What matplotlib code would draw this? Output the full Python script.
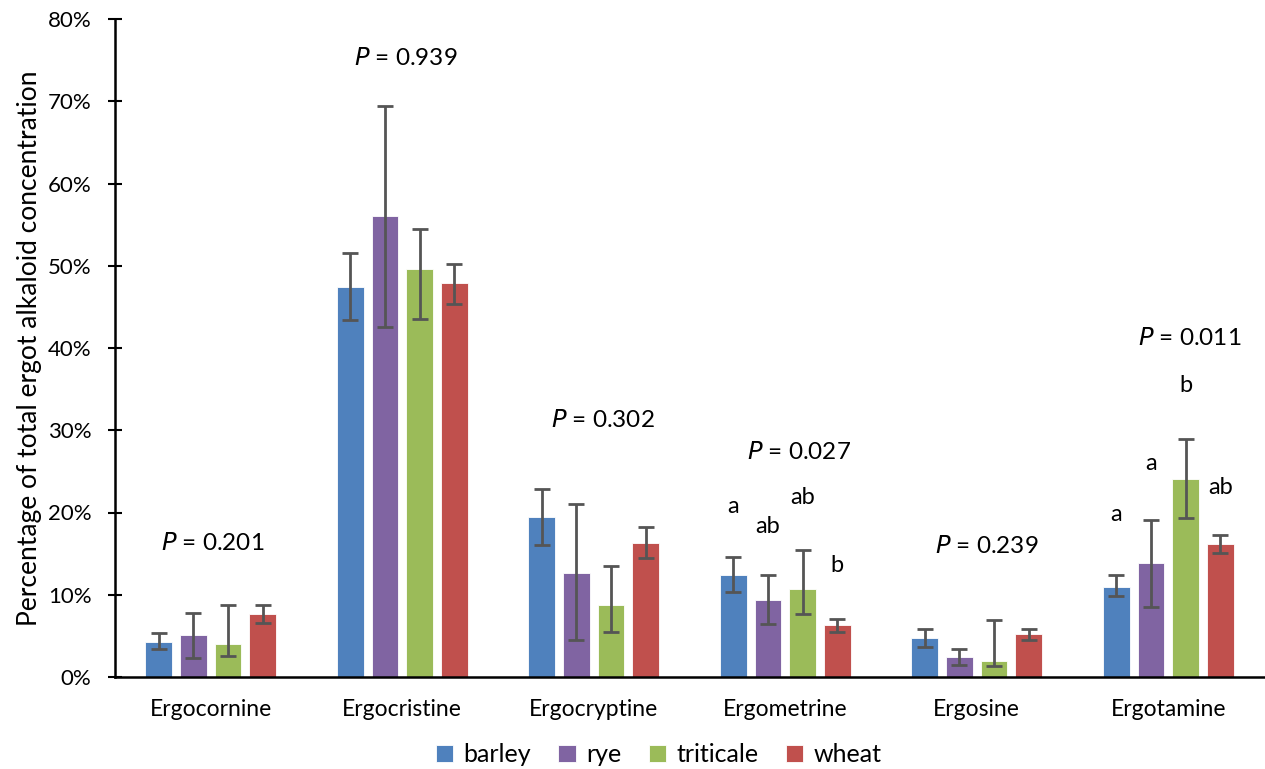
import numpy as np
import matplotlib.pyplot as plt
from matplotlib.ticker import FuncFormatter

plt.rcParams['font.family'] = ['Lato', 'DejaVu Sans']

alkaloids = ['Ergocornine', 'Ergocristine', 'Ergocryptine', 'Ergometrine', 'Ergosine', 'Ergotamine']
grains = ['barley', 'rye', 'triticale', 'wheat']
colors = ['#4F81BD', '#8064A2', '#9BBB59', '#C0504D']

# bar heights (% of total) and error bar ends
barley = [4.3, 47.4, 19.4, 12.4, 4.7, 11.0]
barley_lo = [3.4, 43.4, 16.0, 10.3, 3.6, 9.8]
barley_hi = [5.3, 51.5, 22.8, 14.6, 5.8, 12.4]
rye = [5.1, 56.0, 12.6, 9.4, 2.4, 13.8]
rye_lo = [2.3, 42.6, 4.5, 6.4, 1.5, 8.5]
rye_hi = [7.8, 69.4, 21.0, 12.4, 3.4, 19.1]
triticale = [4.0, 49.6, 8.8, 10.7, 2.0, 24.1]
triticale_lo = [2.6, 43.5, 5.5, 7.7, 1.3, 19.3]
triticale_hi = [8.8, 54.5, 13.5, 15.4, 6.9, 28.9]
wheat = [7.6, 47.9, 16.3, 6.3, 5.2, 16.2]
wheat_lo = [6.6, 45.4, 14.5, 5.5, 4.5, 15.1]
wheat_hi = [8.7, 50.2, 18.2, 7.1, 5.8, 17.3]

# P values and where their labels sit
p_text = ['0.201', '0.939', '0.302', '0.027', '0.239', '0.011']
p_x = [0.01, 1.02, 2.05, 3.07, 4.05, 5.11]
p_y = [16.3, 75.3, 31.2, 27.4, 15.9, 41.2]

# significance letters above Ergometrine and Ergotamine bars
letters_ergometrine = ['a', 'ab', 'ab', 'b']
letters_ergometrine_y = [20.7, 18.3, 21.8, 13.5]
letters_ergotamine = ['a', 'a', 'b', 'ab']
letters_ergotamine_y = [19.7, 26.0, 35.5, 23.1]

series = [(barley, barley_lo, barley_hi), (rye, rye_lo, rye_hi),
          (triticale, triticale_lo, triticale_hi), (wheat, wheat_lo, wheat_hi)]

fig = plt.figure(figsize=(12.65, 7.69), dpi=100)
ax = fig.add_axes([115 / 1265, 92 / 769, 1149 / 1265, 658 / 769])

x = np.arange(len(alkaloids))
width = 0.14
pitch = 0.181
offsets = (np.arange(4) - 1.5) * pitch

for i, (vals, lo, hi) in enumerate(series):
    vals = np.array(vals)
    yerr = [vals - np.array(lo), np.array(hi) - vals]
    ax.bar(x + offsets[i], vals, width, color=colors[i], label=grains[i],
           edgecolor='white', linewidth=0.6, zorder=2)
    ax.errorbar(x + offsets[i], vals, yerr=yerr, fmt='none', ecolor='#555555',
                elinewidth=2, capsize=6, capthick=2, zorder=3)

for j in range(len(alkaloids)):
    ax.text(p_x[j], p_y[j], '$P$ = ' + p_text[j], ha='center', va='center', fontsize=17.5)

for i in range(4):
    ax.text(3 + offsets[i], letters_ergometrine_y[i], letters_ergometrine[i],
            ha='center', va='center', fontsize=17)
    ax.text(5 + offsets[i], letters_ergotamine_y[i], letters_ergotamine[i],
            ha='center', va='center', fontsize=17)

ax.set_xlim(-0.5, 5.5)
ax.set_ylim(0, 80)
ax.set_yticks(np.arange(0, 81, 10))
ax.yaxis.set_major_formatter(FuncFormatter(lambda v, p: '%d%%' % v))
ax.set_xticks(x)
ax.set_xticklabels(alkaloids)
ax.tick_params(axis='x', length=0, labelsize=16.5, pad=16)
ax.tick_params(axis='y', length=10, width=1.5, labelsize=16, direction='inout', pad=12)
ax.set_ylabel('Percentage of total ergot alkaloid concentration', fontsize=19, labelpad=4)

for s in ['top', 'right']:
    ax.spines[s].set_visible(False)
ax.spines['left'].set_linewidth(1.8)
ax.spines['bottom'].set_linewidth(1.8)

ax.legend(loc='lower center', bbox_to_anchor=(0.473, -0.17), ncol=4, frameon=False,
          fontsize=18, handlelength=0.7, handleheight=0.7, handletextpad=0.4,
          columnspacing=1.1)

plt.savefig('out.png', dpi=100)
